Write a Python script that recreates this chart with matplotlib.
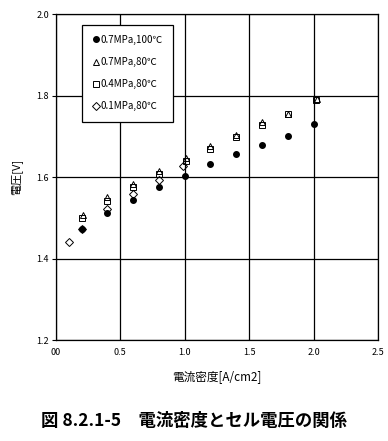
import matplotlib
matplotlib.use("Agg")
import matplotlib.pyplot as plt
from matplotlib.ticker import FuncFormatter

plt.rcParams['font.family'] = ['Noto Sans CJK JP', 'DejaVu Sans']

# データ
labels = ["0.7MPa,100℃", "0.7MPa,80℃", "0.4MPa,80℃", "0.1MPa,80℃"]

x_07_100 = [0.2, 0.4, 0.6, 0.8, 1.0, 1.2, 1.4, 1.6, 1.8, 2.0]
y_07_100 = [1.472, 1.511, 1.544, 1.575, 1.603, 1.631, 1.656, 1.679, 1.702, 1.730]

x_07_80 = [0.21, 0.4, 0.6, 0.8, 1.01, 1.2, 1.4, 1.6, 1.8, 2.03]
y_07_80 = [1.508, 1.550, 1.582, 1.615, 1.648, 1.676, 1.703, 1.734, 1.756, 1.791]

x_04_80 = [0.2, 0.4, 0.6, 0.8, 1.01, 1.2, 1.4, 1.6, 1.8, 2.02]
y_04_80 = [1.499, 1.541, 1.576, 1.607, 1.640, 1.669, 1.699, 1.727, 1.754, 1.790]

x_01_80 = [0.1, 0.2, 0.4, 0.6, 0.8, 0.99]
y_01_80 = [1.441, 1.473, 1.521, 1.559, 1.592, 1.626]

fig = plt.figure(figsize=(3.88, 4.41), dpi=100)
ax = fig.add_axes([0.144, 0.229, 0.830, 0.739])

ax.plot(x_07_100, y_07_100, linestyle="none", marker="o", ms=4, mfc="black", mec="black", label=labels[0])
ax.plot(x_07_80, y_07_80, linestyle="none", marker="^", ms=5, mfc="none", mec="black", mew=0.7, label=labels[1])
ax.plot(x_04_80, y_04_80, linestyle="none", marker="s", ms=4.5, mfc="none", mec="black", mew=0.7, label=labels[2])
ax.plot(x_01_80, y_01_80, linestyle="none", marker="D", ms=4, mfc="none", mec="black", mew=0.7, label=labels[3])

ax.set_xlim(0, 2.5)
ax.set_ylim(1.2, 2.0)
ax.set_xticks([0.0, 0.5, 1.0, 1.5, 2.0, 2.5])
ax.set_yticks([1.2, 1.4, 1.6, 1.8, 2.0])
ax.xaxis.set_major_formatter(FuncFormatter(lambda v, p: "00" if v == 0 else f"{v:.1f}"))
ax.grid(True, color="black", linewidth=0.9)
for s in ax.spines.values():
    s.set_linewidth(0.9)
ax.tick_params(axis="x", length=0, labelsize=6.5, pad=6)
ax.tick_params(axis="y", length=3, direction="out", labelsize=6.5, pad=2)

ax.set_xlabel("電流密度[A/cm2]", fontsize=8.4, labelpad=9)
ax.set_ylabel("電圧[V]", fontsize=8, labelpad=10)

leg = ax.legend(loc="upper left", bbox_to_anchor=(0.08, 0.968), fontsize=7,
                frameon=True, fancybox=False, edgecolor="black", framealpha=1,
                labelspacing=1.25, handlelength=0.8, handletextpad=0.1,
                borderpad=1.05, borderaxespad=0)
leg.get_frame().set_linewidth(0.9)

fig.text(0.5, 0.045, "図 8.2.1-5　電流密度とセル電圧の関係", ha="center", va="center",
         fontsize=12.5, fontweight="bold")

fig.savefig("out.png", dpi=100)
